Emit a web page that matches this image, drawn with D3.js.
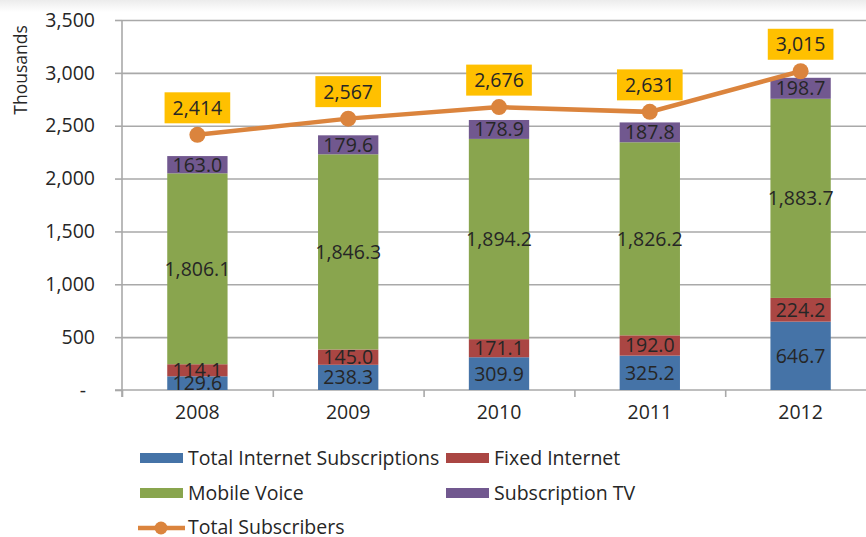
<!DOCTYPE html>
<html>
<head>
<meta charset="utf-8">
<script src="https://cdn.jsdelivr.net/npm/d3@7"></script>
<style>
  html, body { margin: 0; padding: 0; background: #fff; }
  svg { display: block; }
  text { font-family: "Open Sans", "Lato", sans-serif; fill: #262626; }
</style>
</head>
<body>
<svg id="chart" width="866" height="537"></svg>
<script>
// ---- data ----
const years = ["2008", "2009", "2010", "2011", "2012"];
const internetSubs = [129.6, 238.3, 309.9, 325.2, 646.7];
const fixedInternet = [114.1, 145.0, 171.1, 192.0, 224.2];
const mobileVoice = [1806.1, 1846.3, 1894.2, 1826.2, 1883.7];
const subscriptionTV = [163.0, 179.6, 178.9, 187.8, 198.7];
const totalSubscribers = [2414, 2567, 2676, 2631, 3015];
const yTickValues = [0, 500, 1000, 1500, 2000, 2500, 3000, 3500];
const seriesNames = ["Total Internet Subscriptions", "Fixed Internet", "Mobile Voice", "Subscription TV"];
const lineName = "Total Subscribers";
const yAxisTitle = "Thousands";

const colors = ["#4573a7", "#aa4643", "#89a54e", "#71588f"];
const lineColor = "#db843d";
const boxColor = "#ffc000";
const FS = 19.5;

const svg = d3.select("#chart");
const W = 866, H = 537;

// top light strip
const defs = svg.append("defs");
const grad = defs.append("linearGradient").attr("id", "topg").attr("x1", 0).attr("y1", 0).attr("x2", 0).attr("y2", 1);
grad.append("stop").attr("offset", "0%").attr("stop-color", "#ececec");
grad.append("stop").attr("offset", "100%").attr("stop-color", "#ffffff");
svg.append("rect").attr("x", 0).attr("y", 0).attr("width", W).attr("height", 12).attr("fill", "url(#topg)");

const pL = 122, pR = 876, pT = 20, pB = 390;
const x = d3.scaleBand().domain(years).range([pL, pR]).padding(0);
const y = d3.scaleLinear().domain([0, 3500]).range([pB, pT]);
const bw = x.bandwidth() * 0.4;

// gridlines
const grid = svg.append("g").attr("transform", `translate(${pL},0)`)
  .call(d3.axisLeft(y).tickValues(yTickValues.filter(v => v > 0)).tickSize(-(pR - pL)).tickFormat(""));
grid.select(".domain").remove();
grid.selectAll("line").attr("stroke", "#a9a9a9").attr("stroke-width", 1.6);

// y axis
const yAxis = svg.append("g").attr("transform", `translate(${pL},0)`)
  .call(d3.axisLeft(y).tickValues(yTickValues).tickSize(7).tickPadding(20)
    .tickFormat(d => d === 0 ? "-" : d3.format(",")(d)));
yAxis.select(".domain").attr("d", `M0,${pT}V${pB + 7}`).attr("stroke", "#a9a9a9").attr("stroke-width", 1.6);
yAxis.selectAll("line").attr("stroke", "#a9a9a9").attr("stroke-width", 1.6);
yAxis.selectAll("text").attr("font-size", FS).attr("fill", "#262626").style("font-family", "'Open Sans', sans-serif");
yAxis.selectAll(".tick").filter(d => d === 0).select("text").attr("x", -39).attr("text-anchor", "middle");

svg.append("text")
  .attr("transform", `translate(27,70) rotate(-90)`)
  .attr("text-anchor", "middle")
  .attr("font-size", 17.5)
  .text(yAxisTitle);

// x axis boundaries
const xb = d3.scaleLinear().domain([0, years.length]).range([pL, pR]);
const xAxisB = svg.append("g").attr("transform", `translate(0,${pB})`)
  .call(d3.axisBottom(xb).tickValues(d3.range(years.length + 1)).tickSize(7).tickFormat(""));
xAxisB.select(".domain").attr("d", `M${pL - 7},0H${pR}`).attr("stroke", "#a9a9a9").attr("stroke-width", 1.6);
xAxisB.selectAll("line").attr("stroke", "#a9a9a9").attr("stroke-width", 1.6);

const xAxis = svg.append("g").attr("transform", `translate(0,${pB})`)
  .call(d3.axisBottom(x).tickSize(0).tickPadding(15));
xAxis.select(".domain").remove();
xAxis.selectAll("text").attr("font-size", FS).attr("fill", "#262626").style("font-family", "'Open Sans', sans-serif");

// stacked bars
const rows = years.map((yr, i) => ({
  year: yr,
  s0: internetSubs[i], s1: fixedInternet[i], s2: mobileVoice[i], s3: subscriptionTV[i]
}));
const stack = d3.stack().keys(["s0", "s1", "s2", "s3"])(rows);

stack.forEach((layer, li) => {
  const g = svg.append("g");
  g.selectAll("rect").data(layer).enter().append("rect")
    .attr("x", d => x(d.data.year) + (x.bandwidth() - bw) / 2)
    .attr("y", d => y(d[1]))
    .attr("width", bw)
    .attr("height", d => y(d[0]) - y(d[1]))
    .attr("fill", colors[li]);
});
stack.forEach((layer, li) => {
  svg.append("g").selectAll("text").data(layer).enter().append("text")
    .attr("x", d => x(d.data.year) + x.bandwidth() / 2)
    .attr("y", d => (y(d[0]) + y(d[1])) / 2)
    .attr("dy", "0.36em")
    .attr("text-anchor", "middle")
    .attr("font-size", FS)
    .text(d => d3.format(",.1f")(d[1] - d[0]));
});

// line
const pts = years.map((yr, i) => ({ year: yr, v: totalSubscribers[i] }));
const line = d3.line().x(d => x(d.year) + x.bandwidth() / 2).y(d => y(d.v));
svg.append("path").datum(pts).attr("d", line).attr("fill", "none")
  .attr("stroke", lineColor).attr("stroke-width", 4.5);
svg.append("g").selectAll("circle").data(pts).enter().append("circle")
  .attr("cx", d => x(d.year) + x.bandwidth() / 2).attr("cy", d => y(d.v)).attr("r", 8)
  .attr("fill", lineColor);

// line labels with boxes
const lbl = svg.append("g").selectAll("g").data(pts).enter().append("g");
lbl.each(function(d) {
  const g = d3.select(this);
  const cx = x(d.year) + x.bandwidth() / 2, cy = y(d.v) - 27;
  const rect = g.append("rect").attr("fill", boxColor);
  const t = g.append("text").attr("x", cx).attr("y", cy).attr("dy", "0.36em")
    .attr("text-anchor", "middle").attr("font-size", FS).text(d3.format(",")(d.v));
  const bb = t.node().getBBox();
  rect.attr("x", cx - bb.width / 2 - 8).attr("y", cy - 15.5).attr("width", bb.width + 16).attr("height", 31);
});

// legend
const legend = svg.append("g").style("font-family", "'Open Sans', sans-serif");
const legPos = [[140, 458], [446, 458], [140, 493], [446, 493]];
seriesNames.forEach((name, i) => {
  const [lx, ly] = legPos[i];
  legend.append("rect").attr("x", lx).attr("y", ly - 5).attr("width", 43).attr("height", 10).attr("fill", colors[i]);
  legend.append("text").attr("x", lx + 48).attr("y", ly).attr("dy", "0.35em").attr("font-size", FS).text(name);
});
legend.append("line").attr("x1", 138).attr("x2", 185).attr("y1", 528).attr("y2", 528)
  .attr("stroke", lineColor).attr("stroke-width", 4.5);
legend.append("circle").attr("cx", 161).attr("cy", 528).attr("r", 6.5).attr("fill", lineColor);
legend.append("text").attr("x", 188).attr("y", 528).attr("dy", "0.33em").attr("font-size", FS).text(lineName);
</script>
</body>
</html>
